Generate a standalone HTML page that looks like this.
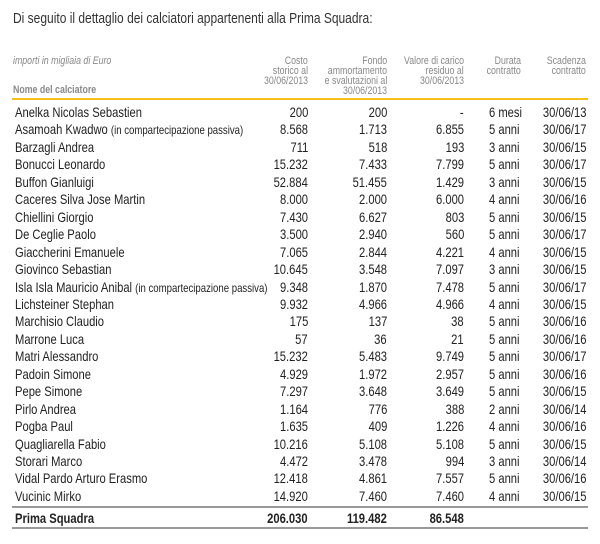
<!DOCTYPE html>
<html><head><meta charset="utf-8"><style>
body{margin:0;width:600px;height:544px;background:#fff;position:relative;overflow:hidden;font-family:"Liberation Sans",sans-serif;color:#222}
.t{position:absolute;white-space:nowrap;line-height:1}
.l{transform-origin:left center;transform:scaleX(.8)}
.r{transform-origin:right center;transform:scaleX(.8);text-align:right}
.h{color:#888;font-size:11px}
.row{font-size:14px}
.line{position:absolute;left:12px;width:576px}
</style></head><body>
<div class="t l" style="left:13px;top:11px;font-size:15px;color:#333">Di seguito il dettaglio dei calciatori appartenenti alla Prima Squadra:</div>
<div class="t l h" style="left:13px;top:56px;font-style:italic">importi in migliaia di Euro</div>
<div class="t l h" style="left:13px;top:85px;font-weight:bold">Nome del calciatore</div>
<div class="line" style="top:98px;height:2px;background:#f5c01a"></div>
<div class="line" style="top:506px;height:2px;background:#999"></div>
<div class="line" style="top:527px;height:1.5px;background:#999"></div>
<script>
function T(x,y,txt,cls,right,extra){var d=document.createElement('div');d.className='t '+cls+(right?' r':' l');d.innerHTML=txt;
if(right){d.style.right=(600-x)+'px';}else d.style.left=x+'px';d.style.top=y+'px';if(extra)d.style.cssText+=extra;document.body.appendChild(d);}
var H=[[308,['Costo','storico al','30/06/2013']],[387,['Fondo','ammortamento','e svalutazioni al','30/06/2013']],[464,['Valore di carico','residuo al','30/06/2013']],[521,['Durata','contratto']],[586,['Scadenza','contratto']]];
H.forEach(function(c){c[1].forEach(function(s,i){T(c[0],56+i*10,s,'h',true);});});
var R=[["Anelka Nicolas Sebastien","200","200","-","6 mesi","30/06/13"],
["Asamoah Kwadwo <span style='font-size:12px'>(in compartecipazione passiva)</span>","8.568","1.713","6.855","5 anni","30/06/17"],
["Barzagli Andrea","711","518","193","3 anni","30/06/15"],
["Bonucci Leonardo","15.232","7.433","7.799","5 anni","30/06/17"],
["Buffon Gianluigi","52.884","51.455","1.429","3 anni","30/06/15"],
["Caceres Silva Jose Martin","8.000","2.000","6.000","4 anni","30/06/16"],
["Chiellini Giorgio","7.430","6.627","803","5 anni","30/06/15"],
["De Ceglie Paolo","3.500","2.940","560","5 anni","30/06/17"],
["Giaccherini Emanuele","7.065","2.844","4.221","4 anni","30/06/15"],
["Giovinco Sebastian","10.645","3.548","7.097","3 anni","30/06/15"],
["Isla Isla Mauricio Anibal <span style='font-size:12px'>(in compartecipazione passiva)</span>","9.348","1.870","7.478","5 anni","30/06/17"],
["Lichsteiner Stephan","9.932","4.966","4.966","4 anni","30/06/15"],
["Marchisio Claudio","175","137","38","5 anni","30/06/16"],
["Marrone Luca","57","36","21","5 anni","30/06/16"],
["Matri Alessandro","15.232","5.483","9.749","5 anni","30/06/17"],
["Padoin Simone","4.929","1.972","2.957","5 anni","30/06/16"],
["Pepe Simone","7.297","3.648","3.649","5 anni","30/06/15"],
["Pirlo Andrea","1.164","776","388","2 anni","30/06/14"],
["Pogba Paul","1.635","409","1.226","4 anni","30/06/16"],
["Quagliarella Fabio","10.216","5.108","5.108","5 anni","30/06/15"],
["Storari Marco","4.472","3.478","994","3 anni","30/06/14"],
["Vidal Pardo Arturo Erasmo","12.418","4.861","7.557","5 anni","30/06/16"],
["Vucinic Mirko","14.920","7.460","7.460","4 anni","30/06/15"]];
R.forEach(function(r,i){var y=105+i*17.45;
T(15,y,r[0],'row',false);T(308,y,r[1],'row',true);T(387,y,r[2],'row',true);T(464,y,r[3],'row',true);
T(489,y,r[4],'row',false);T(586,y,r[5],'row',true);});
var y=511;
T(15,y,'Prima Squadra','row',false,'font-weight:bold');T(308,y,'206.030','row',true,'font-weight:bold');
T(387,y,'119.482','row',true,'font-weight:bold');T(464,y,'86.548','row',true,'font-weight:bold');
</script>
</body></html>
